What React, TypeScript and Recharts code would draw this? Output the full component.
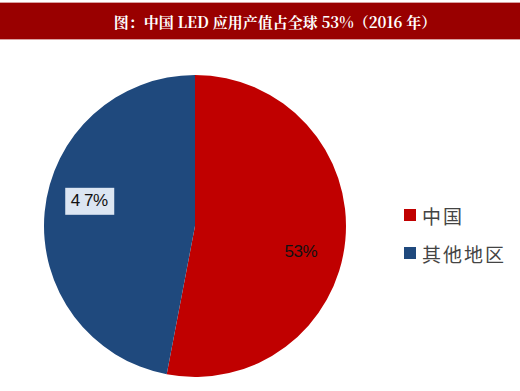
import { PieChart, Pie, Cell } from 'recharts'

const REGIONS = ['中国', '其他地区']
const SHARES = [53, 47]
const LABELS = ['53%', '4 7%']
const COLORS = ['#c00000', '#1f497d']
const TITLE = '图：中国 LED 应用产值占全球 53%（2016 年）'

const data = REGIONS.map((name, i) => ({ name, value: SHARES[i] }))

const RAD = Math.PI / 180
const LABEL_FONT = "'Liberation Sans', Arial, sans-serif"

function SliceLabel(props: any) {
  const { cx, cy, midAngle, outerRadius, index } = props
  const r = outerRadius * 0.72
  const a = midAngle - 8
  const x = cx + r * Math.cos(-a * RAD)
  const y = cy + r * Math.sin(-a * RAD)
  const text = (
    <text x={x} y={y + 1} textAnchor="middle" dominantBaseline="middle" fontSize={17} fill="#111" fontFamily={LABEL_FONT} letterSpacing={-0.5}>
      {LABELS[index]}
    </text>
  )
  if (index === 1) {
    return (
      <g>
        <rect x={x - 24} y={y - 13} width={49} height={27} fill="#dce6f2" />
        {text}
      </g>
    )
  }
  return text
}

export default function App() {
  return (
    <div style={{ position: 'absolute', left: 0, top: 0, width: 520, height: 391, background: '#fff', overflow: 'hidden' }}>
      <div
        style={{
          position: 'absolute', left: 0, top: 2, width: 520, height: 38,
          background: '#990000', borderTop: '1px solid #d9a0a0', borderBottom: '1px solid #d9a0a0',
          color: '#fff', fontFamily: "'Noto Serif CJK SC', 'Liberation Serif', serif", fontWeight: 'bold',
          fontSize: 15, lineHeight: '38px', textAlign: 'center', paddingLeft: 30, boxSizing: 'border-box',
        }}
      >
        {TITLE}
      </div>
      <PieChart width={520} height={391} style={{ position: 'absolute', left: 0, top: 0 }}>
        <Pie
          data={data}
          dataKey="value"
          cx={190}
          cy={221}
          outerRadius={151}
          startAngle={90}
          endAngle={-270}
          stroke="none"
          label={SliceLabel}
          labelLine={false}
          isAnimationActive={false}
        >
          {data.map((_, i) => (
            <Cell key={i} fill={COLORS[i]} />
          ))}
        </Pie>
      </PieChart>
      <div style={{ position: 'absolute', left: 404, top: 196, fontFamily: "'Noto Sans CJK SC', sans-serif", fontSize: 19, color: '#444' }}>
        {REGIONS.map((name, i) => (
          <div key={name} style={{ display: 'flex', alignItems: 'center', height: 38 }}>
            <div style={{ width: 12, height: 12, background: COLORS[i], marginRight: 6 }} />
            <span style={{ letterSpacing: 2 }}>{name}</span>
          </div>
        ))}
      </div>
    </div>
  )
}
